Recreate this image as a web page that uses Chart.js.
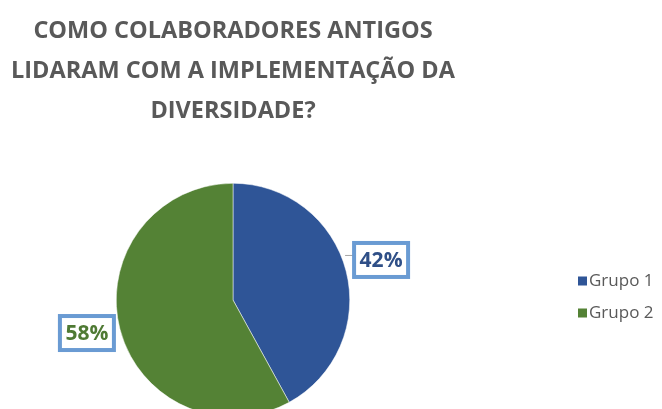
<!DOCTYPE html>
<html>
<head>
<meta charset="utf-8">
<script src="https://cdn.jsdelivr.net/npm/chart.js@4/dist/chart.umd.min.js"></script>
<style>
  html, body { margin: 0; padding: 0; background: #fff; overflow: hidden; }
  #wrap { width: 662px; height: 420px; }
</style>
</head>
<body>
<div id="wrap"><canvas id="grafico" width="662" height="420"></canvas></div>
<script>
const categorias = ['Grupo 1', 'Grupo 2'];
const valores = [42, 58];
const cores = ['#2f5597', '#548235'];
const tituloLinhas = ['COMO COLABORADORES ANTIGOS', 'LIDARAM COM A IMPLEMENTAÇÃO DA', 'DIVERSIDADE?'];

// rótulos de porcentagem em caixas com borda azul
const rotulosPlugin = {
    id: 'rotulos',
    afterDatasetsDraw(chart) {
        const { ctx } = chart;
        const meta = chart.getDatasetMeta(0);
        const dados = chart.data.datasets[0].data;
        const total = dados.reduce((a, b) => a + b, 0);
        ctx.save();
        ctx.font = 'bold 21px "Open Sans", sans-serif';
        ctx.textBaseline = 'middle';
        meta.data.forEach((arc, i) => {
            const { x, y, startAngle, endAngle, outerRadius } = arc.getProps(['x', 'y', 'startAngle', 'endAngle', 'outerRadius'], true);
            const meio = (startAngle + endAngle) / 2;
            const ex = x + Math.cos(meio) * outerRadius;
            const ey = y + Math.sin(meio) * outerRadius;
            const texto = Math.round(dados[i] / total * 100) + '%';
            const w = 54, h = 34;
            let bx, cy;
            if (Math.cos(meio) >= 0) {
                bx = ex + 8;
                cy = ey - 11;
                // linha de chamada
                ctx.strokeStyle = '#a6a6a6';
                ctx.lineWidth = 1;
                ctx.beginPath();
                ctx.moveTo(ex - 1, cy - 4.5);
                ctx.lineTo(bx, cy - 4.5);
                ctx.stroke();
            } else {
                bx = ex - 6 - w;
                cy = ey + 4;
            }
            ctx.fillStyle = '#ffffff';
            ctx.fillRect(bx, cy - h / 2, w, h);
            ctx.strokeStyle = '#6a9bd3';
            ctx.lineWidth = 4;
            ctx.strokeRect(bx, cy - h / 2, w, h);
            ctx.fillStyle = i === 0 ? '#2f4f87' : '#4f7a34';
            ctx.textAlign = 'center';
            ctx.fillText(texto, bx + w / 2, cy + 1);
        });
        ctx.restore();
    }
};

// legenda à direita
const legendaPlugin = {
    id: 'legendaDireita',
    afterDraw(chart) {
        const { ctx } = chart;
        const ds = chart.data.datasets[0];
        ctx.save();
        ctx.font = '17px "Open Sans", sans-serif';
        ctx.textBaseline = 'middle';
        ctx.textAlign = 'left';
        chart.data.labels.forEach((rotulo, i) => {
            const yy = 281 + i * 32;
            ctx.fillStyle = ds.backgroundColor[i];
            ctx.fillRect(578, yy - 4.5, 9, 9);
            ctx.fillStyle = '#595959';
            ctx.fillText(rotulo, 589, yy);
        });
        ctx.restore();
    }
};

new Chart(document.getElementById('grafico'), {
    type: 'pie',
    data: {
        labels: categorias,
        datasets: [{
            data: valores,
            backgroundColor: cores,
            borderColor: '#ffffff',
            borderWidth: 0.5
        }]
    },
    options: {
        responsive: false,
        animation: false,
        layout: {
            padding: { top: 0, right: 196, bottom: 3, left: 0 }
        },
        plugins: {
            legend: { display: false },
            tooltip: { enabled: false },
            title: {
                display: true,
                text: tituloLinhas,
                color: '#595959',
                font: { family: '"Open Sans", sans-serif', size: 23.5, weight: 'bold', lineHeight: 40 / 23.5 },
                padding: { top: 11, bottom: 52 }
            }
        }
    },
    plugins: [rotulosPlugin, legendaPlugin]
});
</script>
</body>
</html>
